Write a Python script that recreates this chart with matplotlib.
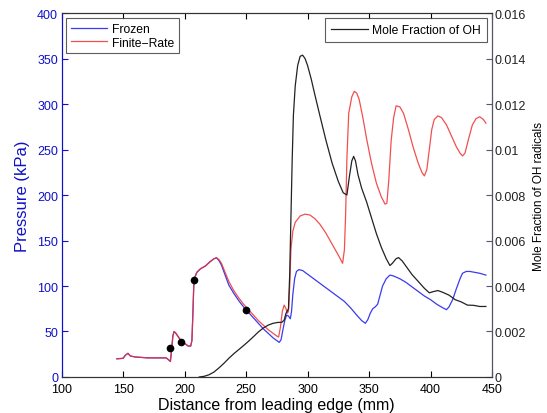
import numpy as np
from matplotlib import pyplot as plt

plt.rcParams['font.family'] = ['Liberation Sans', 'DejaVu Sans']

# Finite-rate pressure (kPa) vs distance (mm)
rate_x = [145, 150, 152, 154, 156, 160, 170, 180, 185, 187, 188.5, 189.5, 190.5, 191.5,
          193, 195, 197, 199, 201, 203, 205, 206, 206.8, 207.5, 208.5, 210, 213, 217, 221,
          224, 226, 228, 230, 233, 236, 240, 244, 248, 252, 256, 260, 264, 268, 272, 275,
          276.5, 278, 279.5, 281, 282.5, 283.5, 284.5, 285.5, 286.5, 288, 290, 294, 298,
          302, 306, 310, 315, 320, 325, 328.5, 330, 331, 332, 333.5, 336, 338, 340, 342,
          345, 348, 352, 356, 360, 363, 364.5, 366, 368, 370, 372, 375, 378, 382, 386, 390,
          393, 395, 397, 399, 401, 403, 406, 409, 413, 417, 421, 424, 426, 428, 431, 434,
          437, 440, 443, 445]
rate_p = [20, 20.5, 24, 26, 23, 22, 21, 21, 21, 19, 17, 30, 45, 50,
          48, 44, 40, 38, 36, 34, 34, 40, 70, 100, 110, 115, 119, 122, 127,
          130, 131, 129, 125, 115, 105, 95, 87, 80, 74, 68, 62, 57, 52, 48, 45,
          44, 55, 72, 79, 75, 70, 72, 100, 140, 160, 170, 177, 179,
          178, 174, 168, 158, 146, 134, 125, 140, 180, 240, 290, 308, 314, 312, 305,
          285, 262, 235, 213, 198, 190, 191, 215, 260, 285, 298, 297, 290, 272, 252, 235,
          225, 221, 228, 250, 272, 283, 287, 285, 277, 265, 253, 246, 243, 246, 262, 277,
          284, 286, 283, 279]

# Frozen pressure (kPa)
frozen_x = [145, 150, 152, 154, 156, 160, 170, 180, 185, 187, 188.5, 189.5, 190.5, 191.5,
            193, 195, 197, 199, 201, 203, 205, 206, 206.8, 207.5, 208.5, 210, 213, 217, 221,
            224, 226, 228, 230, 233, 236, 240, 244, 248, 252, 256, 260, 264, 268, 272, 275,
            277, 278.5, 280, 281.5, 283, 284.5, 286, 287, 288, 289.5, 291, 293, 296, 300,
            305, 310, 315, 320, 325, 330, 335, 340, 344, 347, 349, 351, 353, 355, 357, 359,
            361, 364, 367, 370, 375, 380, 385, 390, 395, 400, 405, 410, 413, 415, 418, 421,
            424, 426, 429, 432, 436, 440, 445]
frozen_p = [20, 20.5, 24, 26, 23, 22, 21, 21, 21, 19, 17, 30, 45, 50,
            48, 44, 40, 38, 36, 34, 34, 40, 70, 100, 110, 115, 119, 122, 127,
            130, 131, 128, 123, 112, 101, 92, 84, 77, 71, 65, 59, 53, 48, 43, 40,
            38, 41, 52, 62, 68, 67, 64, 72, 90, 108, 116, 118, 117, 113,
            108, 103, 98, 93, 88, 83, 76, 68, 62, 59, 63, 70, 75, 77, 80, 90,
            100, 108, 112, 111, 108, 104, 99, 94, 89, 85, 80, 76, 74, 77, 85, 97,
            108, 114, 116, 116, 115, 114, 112]

# Mole fraction of OH
oh_x = [212, 216, 220, 224, 228, 232, 236, 240, 244, 248, 252, 256, 260, 264, 268, 272,
        276, 279, 281, 282.5, 283.5, 284.5, 285.5, 286.5, 287.5, 288.5, 290, 292, 294, 296,
        298, 300, 303, 306, 310, 315, 320, 325, 329, 332, 334, 336, 337.5, 339, 341, 344,
        348, 352, 356, 360, 364, 367, 369, 372, 374, 377, 381, 385, 390, 395, 399, 402,
        406, 410, 415, 420, 425, 430, 435, 440, 445]
oh_y = [0, 0.00003, 0.0001, 0.00022, 0.0004, 0.0006, 0.00082, 0.00102, 0.0012, 0.00138,
        0.00157, 0.00177, 0.00198, 0.00215, 0.00228, 0.00236, 0.0024, 0.0024, 0.0025,
        0.0028, 0.0029, 0.003, 0.0045, 0.007, 0.0095, 0.0115, 0.0128, 0.0137, 0.0141,
        0.01415, 0.014, 0.0137, 0.0131, 0.0124, 0.0115, 0.0104, 0.0094, 0.0086, 0.0081,
        0.008, 0.0088, 0.0095, 0.0097, 0.0095, 0.0089, 0.0083, 0.0077, 0.007, 0.0063,
        0.0057, 0.0052, 0.0049, 0.005, 0.0052, 0.00525, 0.0051, 0.0048, 0.0045, 0.0042,
        0.0039, 0.0037, 0.00375, 0.0038, 0.00372, 0.0036, 0.0034, 0.0033, 0.00316,
        0.00315, 0.0031, 0.0031]

# black dots on pressure curve
dot_x = [188.5, 197.5, 207.5, 250]
dot_p = [32, 39, 107, 74]

blue = '#3a3af0'
red = '#f03030'
axis_blue = '#1010c8'

fig = plt.figure(figsize=(5.47, 4.14), dpi=100)
ax = fig.add_axes([0.1125, 0.087, 0.787, 0.879])
ax2 = ax.twinx()

ax.plot(frozen_x, frozen_p, color=blue, lw=0.9, label='Frozen')
ax.plot(rate_x, rate_p, color=red, lw=0.9, alpha=0.85, label='Finite\u2212Rate')
ax.plot(dot_x, dot_p, 'o', color='black', ms=4.5)
ax2.plot(oh_x, oh_y, color='#222222', lw=0.9, label='Mole Fraction of OH')

ax.set_xlim(100, 450)
ax.set_ylim(0, 400)
ax2.set_ylim(0, 0.016)
ax.set_xticks(np.arange(100, 451, 50))
ax.set_yticks(np.arange(0, 401, 50))
ax2.set_yticks(np.arange(0, 0.0161, 0.002))
ax2.set_yticklabels(['0', '0.002', '0.004', '0.006', '0.008', '0.01', '0.012', '0.014', '0.016'])

ax.tick_params(axis='x', direction='in', top=True, length=4, labelsize=9, pad=4.5)
ax.tick_params(axis='y', direction='in', length=4, labelsize=9, colors=axis_blue, pad=2.5)
ax2.tick_params(axis='y', direction='in', length=4, labelsize=9, colors='#222222', pad=2)
ax2.tick_params(axis='y', which='both', color='#555570')

ax.spines['left'].set_color(axis_blue)
ax2.spines['left'].set_color(axis_blue)
ax2.spines['right'].set_color('#555570')
for a in (ax, ax2):
    a.spines['top'].set_color('#333333')
    a.spines['bottom'].set_color('#333333')

ax.set_xlabel('Distance from leading edge (mm)', fontsize=11.5, labelpad=1)
ax.set_ylabel('Pressure (kPa)', fontsize=12, color=axis_blue, labelpad=5)
ax2.set_ylabel('Mole Fraction of OH radicals', fontsize=8.5, labelpad=5)

leg1 = ax.legend(loc='upper left', fontsize=8.7, frameon=True, fancybox=False,
                 edgecolor='#333333', borderpad=0.4, handlelength=3.0,
                 handletextpad=0.4, labelspacing=0.15, borderaxespad=0.4)
leg1.get_frame().set_linewidth(0.8)
leg2 = ax2.legend(loc='upper right', fontsize=8.7, frameon=True, fancybox=False,
                  edgecolor='#333333', borderpad=0.5, handlelength=3.0,
                  handletextpad=0.4, borderaxespad=0.4)
leg2.get_frame().set_linewidth(0.8)

fig.savefig('out.png', dpi=100)
